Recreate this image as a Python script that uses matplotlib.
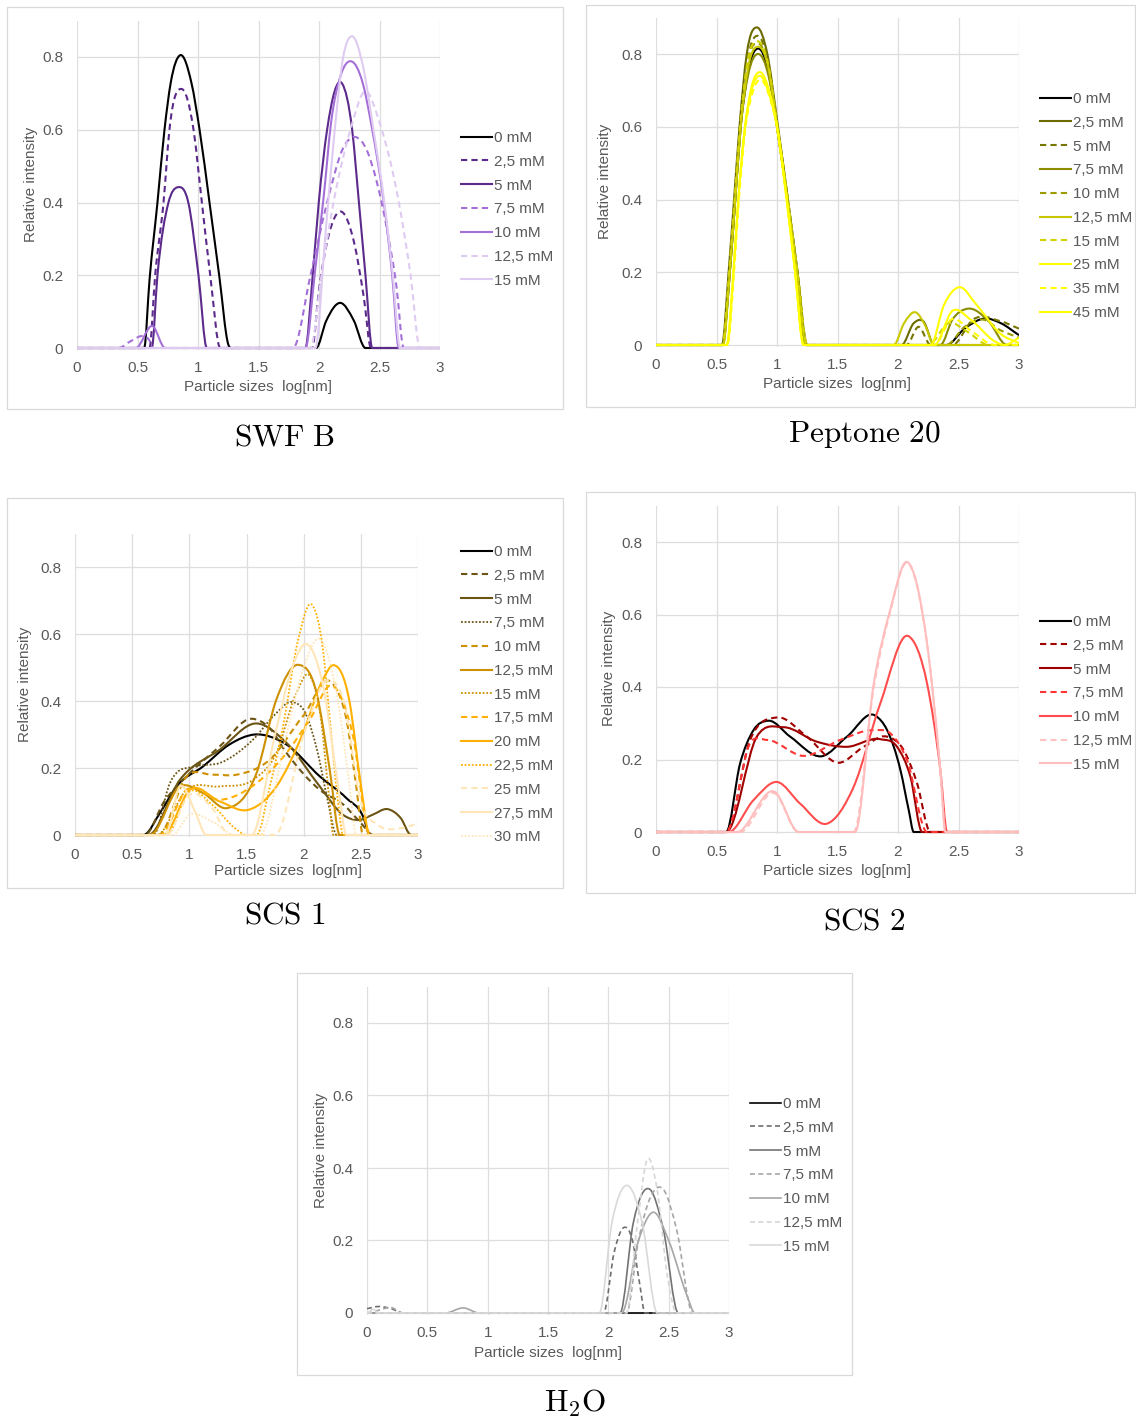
import numpy as np
import matplotlib
matplotlib.use("Agg")
import matplotlib.pyplot as plt
from matplotlib.path import Path
from matplotlib.patches import PathPatch, Rectangle
from matplotlib.lines import Line2D

W, H = 1136, 1421
plt.rcParams['font.family'] = ['Liberation Sans', 'DejaVu Sans']
plt.rcParams['mathtext.fontset'] = 'cm'

# ---- SWF B ----
swf_labels = ['0 mM', '2,5 mM', '5 mM', '7,5 mM', '10 mM', '12,5 mM', '15 mM']
swf_colors = ['#000000', '#5b2a8b', '#5b2a8b', '#a470d8', '#a470d8', '#dfcbf1', '#dfcbf1']
swf_styles = ['-', '--', '-', '--', '-', '--', '-']
swf_pts = [
    [(0, 0), (0.555, 0), (0.60, 0.19), (0.665, 0.40), (0.723, 0.60), (0.775, 0.73), (0.853, 0.805),
     (0.945, 0.73), (1.013, 0.60), (1.095, 0.40), (1.175, 0.20), (1.25, 0.01), (1.29, 0),
     (1.976, 0), (2.06, 0.075), (2.177, 0.124), (2.287, 0.076), (2.384, 0), (3, 0)],
    [(0, 0), (0.599, 0), (0.646, 0.20), (0.715, 0.40), (0.764, 0.60), (0.866, 0.712), (0.963, 0.60),
     (1.032, 0.40), (1.101, 0.20), (1.184, 0), (1.943, 0), (2.0, 0.16), (2.08, 0.31), (2.183, 0.375),
     (2.29, 0.29), (2.37, 0.14), (2.43, 0), (3, 0)],
    [(0, 0), (0.618, 0), (0.665, 0.20), (0.756, 0.40), (0.833, 0.442), (0.92, 0.40), (1.004, 0.20),
     (1.073, 0), (1.887, 0), (1.948, 0.20), (1.998, 0.40), (2.067, 0.60), (2.191, 0.727), (2.274, 0.60),
     (2.33, 0.40), (2.384, 0.20), (2.44, 0), (3, 0)],
    [(0, 0), (0.342, 0), (0.45, 0.02), (0.55, 0.032), (0.60, 0.02), (0.625, 0), (1.785, 0), (1.93, 0.20),
     (2.067, 0.40), (2.20, 0.55), (2.30, 0.58), (2.40, 0.54), (2.475, 0.46), (2.56, 0.33), (2.64, 0.17),
     (2.70, 0), (3, 0)],
    [(0, 0), (0.486, 0), (0.626, 0.06), (0.728, 0), (1.887, 0), (1.97, 0.22), (2.04, 0.42), (2.10, 0.62),
     (2.18, 0.75), (2.268, 0.788), (2.36, 0.73), (2.44, 0.60), (2.536, 0.40), (2.605, 0.20), (2.66, 0), (3, 0)],
    [(0, 0), (1.93, 0), (2.02, 0.20), (2.12, 0.40), (2.26, 0.60), (2.384, 0.706), (2.50, 0.62), (2.66, 0.40),
     (2.757, 0.20), (2.834, 0), (3, 0)],
    [(0, 0), (1.97, 0), (2.05, 0.30), (2.13, 0.60), (2.20, 0.80), (2.274, 0.857), (2.36, 0.78), (2.45, 0.60),
     (2.54, 0.40), (2.61, 0.20), (2.67, 0), (3, 0)],
]

# ---- Peptone 20 ----
pep_labels = ['0 mM', '2,5 mM', '5 mM', '7,5 mM', '10 mM', '12,5 mM', '15 mM', '25 mM', '35 mM', '45 mM']
pep_colors = ['#000000', '#6b6b00', '#767600', '#8c8c00', '#9c9c00', '#c8c800', '#d2d200',
              '#ffff00', '#ffff00', '#ffff00']
pep_styles = ['-', '-', '--', '-', '--', '-', '--', '-', '--', '-']
pep_pts = [
    [(0, 0), (0.55, 0), (0.61, 0.2), (0.655, 0.4), (0.70, 0.6), (0.76, 0.75), (0.845, 0.815), (0.93, 0.75),
     (1.0, 0.6), (1.085, 0.4), (1.16, 0.2), (1.235, 0), (2.40, 0), (2.55, 0.045), (2.72, 0.073),
     (2.85, 0.06), (3.0, 0.027)],
    [(0, 0), (0.545, 0), (0.60, 0.2), (0.645, 0.4), (0.69, 0.6), (0.75, 0.80), (0.835, 0.873), (0.92, 0.80),
     (1.0, 0.62), (1.09, 0.4), (1.17, 0.2), (1.245, 0), (2.03, 0), (2.13, 0.06), (2.21, 0.065), (2.30, 0),
     (3, 0)],
    [(0, 0), (0.55, 0), (0.605, 0.2), (0.65, 0.4), (0.695, 0.6), (0.755, 0.78), (0.84, 0.85), (0.925, 0.78),
     (1.005, 0.6), (1.09, 0.4), (1.17, 0.2), (1.25, 0), (2.07, 0), (2.17, 0.05), (2.27, 0), (2.45, 0),
     (2.62, 0.07), (2.85, 0.065), (3.0, 0.045)],
    [(0, 0), (0.55, 0), (0.61, 0.2), (0.655, 0.4), (0.70, 0.6), (0.76, 0.74), (0.845, 0.80), (0.93, 0.74),
     (1.0, 0.6), (1.085, 0.4), (1.165, 0.2), (1.24, 0), (2.35, 0), (2.45, 0.07), (2.58, 0.10),
     (2.75, 0.065), (2.9, 0), (3, 0)],
    [(0, 0), (0.55, 0), (0.605, 0.2), (0.65, 0.4), (0.695, 0.6), (0.755, 0.77), (0.84, 0.83), (0.925, 0.77),
     (1.005, 0.6), (1.09, 0.4), (1.17, 0.2), (1.25, 0), (2.4, 0), (2.55, 0.05), (2.7, 0.07), (2.85, 0.04),
     (3.0, 0.02)],
    [(0, 0), (0.555, 0), (0.61, 0.2), (0.655, 0.4), (0.70, 0.6), (0.76, 0.76), (0.845, 0.82), (0.93, 0.76),
     (1.0, 0.6), (1.085, 0.4), (1.165, 0.2), (1.24, 0), (1.965, 0), (2.05, 0.06), (2.144, 0.09),
     (2.23, 0.05), (2.296, 0), (3, 0)],
    [(0, 0), (0.55, 0), (0.605, 0.2), (0.65, 0.4), (0.695, 0.6), (0.755, 0.775), (0.84, 0.835), (0.925, 0.775),
     (1.005, 0.6), (1.09, 0.4), (1.17, 0.2), (1.25, 0), (2.25, 0), (2.42, 0.06), (2.58, 0.035), (2.75, 0),
     (3, 0)],
    [(0, 0), (0.585, 0), (0.64, 0.2), (0.68, 0.4), (0.737, 0.6), (0.79, 0.70), (0.86, 0.74), (0.935, 0.69),
     (1.0, 0.6), (1.08, 0.4), (1.15, 0.2), (1.22, 0), (2.27, 0), (2.38, 0.11), (2.508, 0.159), (2.65, 0.11),
     (2.85, 0.03), (3, 0.005)],
    [(0, 0), (0.59, 0), (0.645, 0.2), (0.685, 0.4), (0.74, 0.6), (0.795, 0.69), (0.865, 0.73), (0.94, 0.68),
     (1.0, 0.6), (1.08, 0.4), (1.15, 0.2), (1.22, 0), (2.3, 0), (2.44, 0.07), (2.6, 0.04), (2.8, 0), (3, 0)],
    [(0, 0), (0.585, 0), (0.64, 0.2), (0.68, 0.4), (0.735, 0.6), (0.79, 0.71), (0.86, 0.75), (0.935, 0.70),
     (1.0, 0.6), (1.08, 0.4), (1.15, 0.2), (1.22, 0), (2.3, 0), (2.45, 0.094), (2.6, 0.07), (2.8, 0.01),
     (2.88, 0), (3.0, 0.02)],
]

# ---- SCS 1 ----
scs1_labels = ['0 mM', '2,5 mM', '5 mM', '7,5 mM', '10 mM', '12,5 mM', '15 mM', '17,5 mM', '20 mM',
               '22,5 mM', '25 mM', '27,5 mM', '30 mM']
scs1_colors = ['#000000', '#6b5414', '#6b5414', '#6b5414', '#cc9000', '#cc9000', '#cc9000',
               '#ffb000', '#ffb000', '#ffb000', '#ffe6b8', '#ffe6b8', '#ffe6b8']
scs1_styles = ['-', '--', '-', ':', '--', '-', ':', '--', '-', ':', '--', '-', ':']
scs1_pts = [
    [(0, 0), (0.597, 0), (0.75, 0.07), (0.888, 0.145), (1.121, 0.205), (1.35, 0.27), (1.573, 0.30),
     (1.85, 0.27), (2.141, 0.175), (2.374, 0.11), (2.52, 0.055), (2.58, 0), (3, 0)],
    [(0, 0), (0.61, 0), (0.78, 0.1), (0.976, 0.175), (1.267, 0.265), (1.544, 0.347), (1.70, 0.32),
     (1.85, 0.245), (2.14, 0.135), (2.35, 0.09), (2.49, 0.04), (2.61, 0), (3, 0)],
    [(0, 0), (0.64, 0), (0.918, 0.165), (1.267, 0.255), (1.588, 0.333), (1.85, 0.275), (2.141, 0.145),
     (2.345, 0.06), (2.49, 0.045), (2.6, 0.06), (2.738, 0.077), (2.85, 0.05), (2.94, 0), (3, 0)],
    [(0, 0), (0.685, 0), (0.83, 0.155), (1.063, 0.205), (1.267, 0.215), (1.558, 0.285), (1.75, 0.36),
     (1.893, 0.397), (2.02, 0.36), (2.12, 0.25), (2.2, 0.12), (2.29, 0), (3, 0)],
    [(0, 0), (0.73, 0), (0.976, 0.175), (1.2, 0.18), (1.413, 0.18), (1.704, 0.225), (1.995, 0.355),
     (2.258, 0.45), (2.374, 0.345), (2.46, 0.145), (2.52, 0), (3, 0)],
    [(0, 0), (0.655, 0), (0.918, 0.145), (1.121, 0.125), (1.325, 0.08), (1.588, 0.185), (1.762, 0.405),
     (1.952, 0.508), (2.112, 0.425), (2.228, 0.195), (2.316, 0), (3, 0)],
    [(0, 0), (0.714, 0), (0.976, 0.135), (1.267, 0.145), (1.558, 0.165), (1.762, 0.245), (1.937, 0.425),
     (2.054, 0.475), (2.15, 0.35), (2.22, 0.12), (2.26, 0), (3, 0)],
    [(0, 0), (0.743, 0), (0.976, 0.135), (1.267, 0.105), (1.588, 0.155), (1.85, 0.245), (2.054, 0.345),
     (2.258, 0.445), (2.432, 0.295), (2.578, 0), (3, 0)],
    [(0, 0), (0.772, 0), (1.005, 0.135), (1.267, 0.10), (1.515, 0.075), (1.762, 0.145), (1.995, 0.305),
     (2.17, 0.465), (2.258, 0.507), (2.40, 0.40), (2.50, 0.15), (2.578, 0), (3, 0)],
    [(0, 0), (0.80, 0), (1.0, 0.13), (1.2, 0.09), (1.40, 0.02), (1.50, 0), (1.588, 0), (1.704, 0.145),
     (1.82, 0.325), (1.95, 0.58), (2.074, 0.687), (2.17, 0.55), (2.229, 0.345), (2.30, 0.1), (2.345, 0),
     (3, 0)],
    [(0, 0), (0.8, 0), (1.0, 0.12), (1.2, 0.08), (1.35, 0), (1.75, 0), (2.0, 0.3), (2.2, 0.46), (2.35, 0.40),
     (2.5, 0.10), (2.65, 0.03), (2.85, 0.02), (3.0, 0.035)],
    [(0, 0), (0.79, 0), (0.918, 0.145), (1.05, 0.07), (1.15, 0), (1.544, 0), (1.75, 0.3), (1.9, 0.5),
     (2.025, 0.57), (2.17, 0.445), (2.3, 0.15), (2.374, 0), (3, 0)],
    [(0, 0), (0.85, 0), (1.0, 0.06), (1.2, 0.04), (1.40, 0), (1.617, 0), (1.85, 0.3), (2.0, 0.5),
     (2.14, 0.585), (2.3, 0.4), (2.4, 0.15), (2.46, 0), (3, 0)],
]

# ---- SCS 2 ----
scs2_labels = ['0 mM', '2,5 mM', '5 mM', '7,5 mM', '10 mM', '12,5 mM', '15 mM']
scs2_colors = ['#000000', '#a00000', '#a00000', '#ff3535', '#ff4d4d', '#ffc2c2', '#ffbdbd']
scs2_styles = ['-', '--', '-', '--', '-', '--', '-']
scs2_pts = [
    [(0, 0), (0.58, 0), (0.695, 0.189), (0.806, 0.281), (0.93, 0.307), (1.109, 0.263), (1.371, 0.209),
     (1.578, 0.263), (1.813, 0.321), (1.91, 0.281), (2.02, 0.171), (2.089, 0.06), (2.13, 0), (3, 0)],
    [(0, 0), (0.58, 0), (0.778, 0.254), (1.0, 0.316), (1.247, 0.263), (1.51, 0.191), (1.716, 0.235),
     (1.91, 0.263), (2.047, 0.226), (2.158, 0.134), (2.268, 0), (3, 0)],
    [(0, 0), (0.58, 0), (0.833, 0.263), (1.054, 0.289), (1.33, 0.249), (1.578, 0.235), (1.854, 0.256),
     (1.992, 0.235), (2.103, 0.152), (2.2, 0), (3, 0)],
    [(0, 0), (0.58, 0), (0.778, 0.245), (0.916, 0.254), (1.22, 0.21), (1.523, 0.254), (1.8, 0.281),
     (1.937, 0.272), (2.075, 0.198), (2.24, 0), (3, 0)],
    [(0, 0), (0.60, 0), (0.806, 0.088), (1.0, 0.138), (1.192, 0.078), (1.413, 0.023), (1.634, 0.125),
     (1.854, 0.355), (2.089, 0.54), (2.24, 0.41), (2.35, 0.171), (2.406, 0), (3, 0)],
    [(0, 0), (0.695, 0), (0.985, 0.106), (1.178, 0), (1.634, 0), (1.8, 0.40), (1.937, 0.61),
     (2.075, 0.743), (2.24, 0.52), (2.35, 0.17), (2.392, 0), (3, 0)],
    [(0, 0), (0.67, 0), (0.985, 0.11), (1.18, 0), (1.645, 0), (1.8, 0.41), (1.937, 0.614), (2.075, 0.745),
     (2.24, 0.52), (2.35, 0.17), (2.392, 0), (3, 0)],
]

# ---- H2O ----
h2o_labels = ['0 mM', '2,5 mM', '5 mM', '7,5 mM', '10 mM', '12,5 mM', '15 mM']
h2o_colors = ['#000000', '#6e6e6e', '#737373', '#a6a6a6', '#a6a6a6', '#d6d6d6', '#d9d9d9']
h2o_styles = ['-', '--', '-', '--', '-', '--', '-']
h2o_pts = [
    [(0, 0), (1.5, 0), (3, 0)],
    [(0, 0.012), (0.1, 0.018), (0.2, 0.012), (0.3, 0), (1.959, 0), (2.05, 0.17), (2.124, 0.235),
     (2.2, 0.2), (2.26, 0.08), (2.304, 0), (3, 0)],
    [(0, 0), (2.097, 0), (2.207, 0.249), (2.345, 0.341), (2.456, 0.23), (2.58, 0), (3, 0)],
    [(0, 0), (0.1, 0.008), (0.2, 0.015), (0.3, 0), (2.15, 0), (2.25, 0.2), (2.35, 0.32), (2.456, 0.341),
     (2.566, 0.23), (2.70, 0), (3, 0)],
    [(0, 0), (0.65, 0), (0.8, 0.014), (0.93, 0), (2.11, 0), (2.25, 0.2), (2.373, 0.278), (2.5, 0.2),
     (2.65, 0.05), (2.718, 0), (3, 0)],
    [(0, 0), (2.15, 0), (2.235, 0.23), (2.323, 0.424), (2.4, 0.35), (2.49, 0.1), (2.566, 0), (3, 0)],
    [(0, 0), (0.05, 0.01), (0.1, 0), (1.925, 0), (2.03, 0.25), (2.152, 0.352), (2.28, 0.25), (2.406, 0),
     (3, 0)],
]

x_ticks = [0, 0.5, 1, 1.5, 2, 2.5, 3]
x_ticklabels = ['0', '0.5', '1', '1.5', '2', '2.5', '3']
y_ticks = [0, 0.2, 0.4, 0.6, 0.8]
y_ticklabels = ['0', '0.2', '0.4', '0.6', '0.8']

GRAY_TXT = '#595959'
DASH = {'-': '-', '--': (0, (3, 2)), ':': (0, (1, 1))}


def smooth_path(pts):
    # smoothed line through the read points (like a spreadsheet "smooth line"), as bezier segments
    x = np.array([p[0] for p in pts], float)
    y = np.array([p[1] for p in pts], float)
    h = np.diff(x)
    d = np.diff(y) / h
    n = len(x)
    m = np.zeros(n)
    for i in range(1, n - 1):
        if y[i] == 0:
            continue  # keep the feet flat on the baseline
        m[i] = (h[i] * d[i - 1] + h[i - 1] * d[i]) / (h[i - 1] + h[i])
    m[0] = d[0] if y[0] != 0 else 0
    m[-1] = d[-1] if y[-1] != 0 else 0
    verts = [(x[0], y[0])]
    codes = [Path.MOVETO]
    for k in range(n - 1):
        verts += [(x[k] + h[k] / 3, y[k] + m[k] * h[k] / 3),
                  (x[k + 1] - h[k] / 3, y[k + 1] - m[k + 1] * h[k] / 3),
                  (x[k + 1], y[k + 1])]
        codes += [Path.CURVE4] * 3
    return Path(verts, codes)


fig = plt.figure(figsize=(W / 100, H / 100), dpi=100)


def px_text(x, y, s, **kw):
    fig.text(x / W, 1 - y / H, s, **kw)


def panel(box, x0, x3, y0, y8, pts, colors, styles, labels, leg_xy, title, title_xy, ylab_x, xlab_xy, lw=1.5):
    bl, bt, br, bb = box
    fig.add_artist(Rectangle((bl / W, 1 - bb / H), (br - bl) / W, (bb - bt) / H, transform=fig.transFigure,
                             fill=False, ec='#d9d9d9', lw=0.9))
    scale = (y0 - y8) / 0.8
    ytop = y0 - 0.9 * scale
    ybot = y0 + 0.006 * scale
    ax = fig.add_axes([x0 / W, 1 - ybot / H, (x3 - x0) / W, (ybot - ytop) / H])
    ax.set_xlim(0, 3)
    ax.set_ylim(-0.006, 0.9)
    ax.set_xticks(x_ticks)
    ax.set_xticklabels(x_ticklabels)
    ax.set_yticks(y_ticks)
    ax.set_yticklabels(y_ticklabels)
    ax.tick_params(length=0, labelsize=11, labelcolor=GRAY_TXT)
    ax.tick_params(axis='x', pad=8)
    ax.tick_params(axis='y', pad=10)
    ax.grid(True, color='#dedede', lw=0.9)
    ax.set_axisbelow(True)
    for s in ax.spines.values():
        s.set_visible(False)
    handles = []
    for i, (p, c, st) in enumerate(zip(pts, colors, styles)):
        lw_i = 1.3 if st == ':' else lw
        patch = PathPatch(smooth_path(p), fill=False, ec=c, lw=lw_i, linestyle=DASH[st], zorder=2 + i * 0.01)
        ax.add_patch(patch)
        handles.append(Line2D([], [], color=c, lw=lw_i, linestyle=DASH[st]))
    ax.legend(handles, labels, loc='upper left', bbox_to_anchor=(leg_xy[0] / W, 1 - leg_xy[1] / H),
              bbox_transform=fig.transFigure, frameon=False, fontsize=11, labelcolor=GRAY_TXT,
              handlelength=2.0, handletextpad=0.13, labelspacing=0.64, borderpad=0, borderaxespad=0)
    px_text(ylab_x, (ytop + y0) / 2, 'Relative intensity', rotation=90, ha='center', va='center',
            fontsize=11, color=GRAY_TXT)
    px_text(xlab_xy[0], xlab_xy[1], 'Particle sizes  log[nm]', ha='center', va='center', fontsize=11,
            color=GRAY_TXT)
    px_text(title_xy[0], title_xy[1], title, ha='center', va='center', fontsize=22.5)
    return ax


panel((7, 7, 563, 409), 77, 440, 348, 57, swf_pts, swf_colors, swf_styles, swf_labels,
      (461, 131), r'$\mathrm{SWF\ B}$', (285, 437), 31, (258, 387))
panel((586, 5, 1135, 407), 656, 1019, 345, 54, pep_pts, pep_colors, pep_styles, pep_labels,
      (1040, 92), r'$\mathrm{Peptone\ 20}$', (864, 435), 605, (837, 384))
panel((7, 498, 563, 888), 75, 418, 835, 567, scs1_pts, scs1_colors, scs1_styles, scs1_labels,
      (461, 545), r'$\mathrm{SCS\ 1}$', (285, 916), 25, (288, 871))
panel((586, 492, 1135, 893), 656, 1019, 832, 542, scs2_pts, scs2_colors, scs2_styles, scs2_labels,
      (1040, 615), r'$\mathrm{SCS\ 2}$', (864, 921), 609, (837, 871))
panel((297, 973, 852, 1375), 367, 729, 1313, 1023, h2o_pts, h2o_colors, h2o_styles, h2o_labels,
      (750, 1097), r'$\mathrm{H_2O}$', (575, 1403), 321, (548, 1353), lw=1.2)

fig.savefig('out.png', dpi=100)
